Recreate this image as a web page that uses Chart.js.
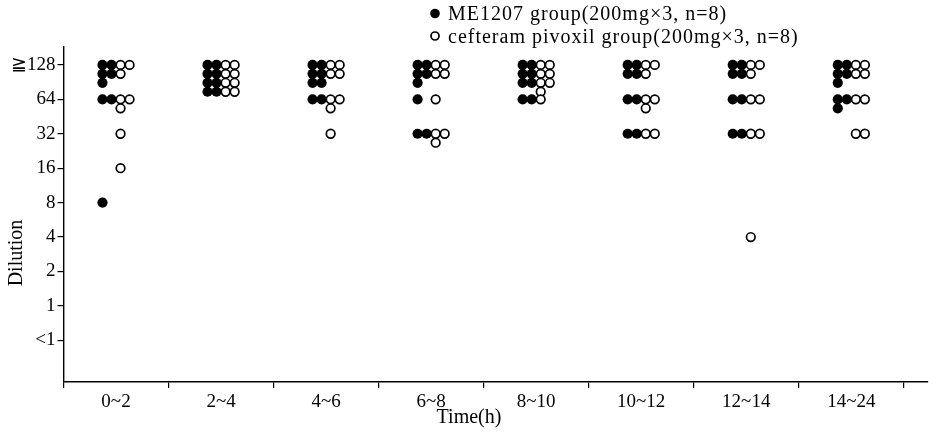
<!DOCTYPE html>
<html>
<head>
<meta charset="utf-8">
<script src="https://cdn.jsdelivr.net/npm/chart.js@4"></script>
<style>
  html, body { margin: 0; padding: 0; background: #fff; }
  #wrap { width: 938px; height: 432px; }
</style>
</head>
<body>
<div id="wrap"><canvas id="Dilution"></canvas></div>
<script>
// time windows after dosing
const categories = ['0~2', '2~4', '4~6', '6~8', '8~10', '10~12', '12~14', '14~24'];
// dilution levels, bottom to top
const levels = ['<1', '1', '2', '4', '8', '16', '32', '64', '≧128'];

// titre of each of the 8 volunteers in every time window
const me1207 = [
    ['≧128', '≧128', '≧128', '≧128', '≧128', '64', '64', '8'],
    ['≧128', '≧128', '≧128', '≧128', '≧128', '≧128', '≧128', '≧128'],
    ['≧128', '≧128', '≧128', '≧128', '≧128', '≧128', '64', '64'],
    ['≧128', '≧128', '≧128', '≧128', '≧128', '64', '32', '32'],
    ['≧128', '≧128', '≧128', '≧128', '≧128', '≧128', '64', '64'],
    ['≧128', '≧128', '≧128', '≧128', '64', '64', '32', '32'],
    ['≧128', '≧128', '≧128', '≧128', '64', '64', '32', '32'],
    ['≧128', '≧128', '≧128', '≧128', '≧128', '64', '64', '64']
];
const cefteram = [
    ['≧128', '≧128', '≧128', '64', '64', '64', '32', '16'],
    ['≧128', '≧128', '≧128', '≧128', '≧128', '≧128', '≧128', '≧128'],
    ['≧128', '≧128', '≧128', '≧128', '64', '64', '64', '32'],
    ['≧128', '≧128', '≧128', '≧128', '64', '32', '32', '32'],
    ['≧128', '≧128', '≧128', '≧128', '≧128', '≧128', '≧128', '64'],
    ['≧128', '≧128', '≧128', '64', '64', '64', '32', '32'],
    ['≧128', '≧128', '≧128', '64', '64', '32', '32', '4'],
    ['≧128', '≧128', '≧128', '≧128', '64', '64', '32', '32']
];

const serif = 'Liberation Serif, Times New Roman, serif';

// stack equal values two per row, hanging down from their level
function stack(groups, firstCol) {
    const pts = [];
    groups.forEach((vals, g) => {
        const seen = {};
        vals.forEach(v => {
            const k = seen[v] || 0;
            seen[v] = k + 1;
            const col = firstCol + (k % 2);
            pts.push({ x: g + (col - 1.5) * 0.086, y: levels.indexOf(v) - Math.floor(k / 2) * 0.26 });
        });
    });
    return pts;
}

const extras = {
    id: 'extras',
    afterDraw(chart) {
        const ctx = chart.ctx;
        ctx.save();
        ctx.fillStyle = '#000';
        ctx.font = '20px ' + serif;
        // axis titles
        ctx.textAlign = 'center';
        ctx.textBaseline = 'middle';
        ctx.fillText('Time(h)', 469, 418);
        ctx.translate(17, 253);
        ctx.rotate(-Math.PI / 2);
        ctx.fillText('Dilution', 0, 0);
        ctx.restore();

        // legend
        ctx.save();
        ctx.font = '20px ' + serif;
        ctx.letterSpacing = '1px';
        ctx.textAlign = 'left';
        ctx.textBaseline = 'alphabetic';
        chart.data.datasets.forEach((ds, i) => {
            const y = 13.5 + i * 22.5;
            ctx.beginPath();
            ctx.arc(435, y, i === 0 ? 4.8 : 4, 0, Math.PI * 2);
            ctx.fillStyle = ds.backgroundColor;
            ctx.fill();
            if (ds.borderWidth) {
                ctx.lineWidth = ds.borderWidth;
                ctx.strokeStyle = ds.borderColor;
                ctx.stroke();
            }
            ctx.fillStyle = '#000';
            ctx.fillText(ds.label, 448, y + 6.5);
        });
        ctx.restore();
    }
};

new Chart('Dilution', {
    type: 'scatter',
    data: {
        datasets: [{
            label: 'ME1207 group(200mg×3, n=8)',
            data: stack(me1207, 0),
            backgroundColor: '#000',
            borderColor: '#000',
            borderWidth: 0,
            pointRadius: 5.1,
            pointHoverRadius: 5.1
        }, {
            label: 'cefteram pivoxil group(200mg×3, n=8)',
            data: stack(cefteram, 2),
            backgroundColor: '#fff',
            borderColor: '#000',
            borderWidth: 1.7,
            pointRadius: 4.3,
            pointHoverRadius: 4.3
        }]
    },
    options: {
        animation: false,
        responsive: true,
        maintainAspectRatio: false,
        layout: { padding: { top: 47, right: 10, left: 0, bottom: 0 } },
        plugins: {
            legend: { display: false },
            tooltip: { enabled: false }
        },
        scales: {
            x: {
                type: 'linear',
                min: -0.5,
                max: 7.73,
                afterFit: s => { s.height = 50; },
                afterBuildTicks: s => {
                    s.ticks = categories.map((_, i) => ({ value: i - 0.5 })).concat([{ value: 7.5 }]);
                },
                ticks: {
                    autoSkip: false,
                    maxRotation: 0,
                    labelOffset: 52.5,
                    padding: 3,
                    color: '#000',
                    font: { family: serif, size: 19 },
                    callback: v => categories[Math.round(v + 0.5)] || ''
                },
                grid: { drawOnChartArea: false, tickLength: 6, color: '#000', lineWidth: 1.2 },
                border: { display: true, color: '#000', width: 1.4 }
            },
            y: {
                type: 'linear',
                min: -1.21,
                max: 8.52,
                afterFit: s => { s.width = 63.5; },
                afterBuildTicks: s => {
                    s.ticks = levels.map((_, i) => ({ value: i }));
                },
                ticks: {
                    autoSkip: false,
                    padding: 2,
                    color: '#000',
                    font: { family: serif, size: 19 },
                    callback: v => levels[v]
                },
                grid: { drawOnChartArea: false, tickLength: 6, color: '#000', lineWidth: 1.2 },
                border: { display: true, color: '#000', width: 1.4 }
            }
        }
    },
    plugins: [extras]
});
</script>
</body>
</html>
